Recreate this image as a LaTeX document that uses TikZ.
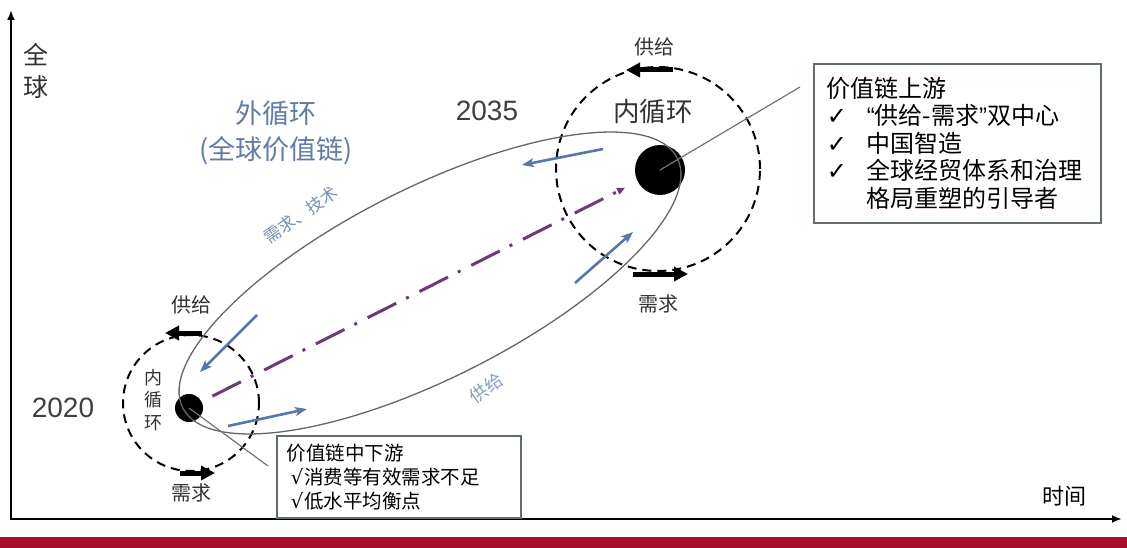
\documentclass[tikz,border=0pt]{standalone}
\usepackage{fontspec}
\newfontfamily\cjk{Noto Sans CJK SC}
\newfontfamily\lat{Liberation Sans}
\newfontfamily\symb{DejaVu Sans}
\usepackage{tikz}
\usetikzlibrary{arrows.meta, positioning}

\definecolor{flowblue}{RGB}{88,118,168}
\definecolor{labelblue}{RGB}{96,124,166}
\definecolor{trendpurple}{RGB}{108,58,118}
\definecolor{boxgray}{RGB}{96,110,110}
\definecolor{barred}{RGB}{168,14,42}
\definecolor{txtgray}{RGB}{50,50,50}

\newcommand{\fs}[2]{\fontsize{#1}{#2}\selectfont}

\begin{document}
\begin{tikzpicture}[x=1pt, y=-1pt,
  every node/.style={font=\cjk, text=txtgray, inner sep=1pt},
  axis/.style={line width=2.4pt, {Latex[length=10pt,width=8pt]}-{Latex[length=10pt,width=8pt]}},
  ring/.style={circle, draw=black, line width=2pt, dash pattern=on 9pt off 6pt, inner sep=0pt},
  dot/.style={circle, fill=black, inner sep=0pt},
  loopline/.style={draw=black!60, line width=1.3pt},
  lead/.style={draw=black!55, line width=1.2pt},
  turn/.style={line width=5pt, -{Triangle[length=14pt,width=14pt]}},
  flow/.style={flowblue, line width=2.6pt, -{Stealth[length=12pt,width=9pt,inset=3pt]}},
  trend/.style={trendpurple, line width=3pt, dash pattern=on 32pt off 11pt on 3pt off 12pt,
    shorten <=12pt, shorten >=14pt, -{Triangle[length=8pt,width=7pt]}},
  infobox/.style={draw=boxgray, line width=1.6pt, align=left, text=black, anchor=north west},
  bluetext/.style={text=labelblue, font=\cjk\fs{27}{36}, align=center}]

\useasboundingbox (0,0) rectangle (1127,548);

% axes
\coordinate (ytop) at (11,10);
\coordinate (origin) at (11,519);
\coordinate (xend) at (1122,519);
\draw[axis] (ytop) -- (origin) -- (xend);
\node (ylab) at (36,71) [align=center, font=\cjk\fs{25}{32}] {全\\球};
\node (tlab) at (1064,496) [text=black, font=\cjk\fs{22}{26}] {时间};

% inner loops
\node[ring, minimum size=136pt] (c20) at (191,403) {};
\node[ring, minimum size=204pt] (c35) at (658,169) {};
\node[dot, minimum size=28pt] (dot20) at (189,408) {};
\node[dot, minimum size=50pt] (dot35) at (660,170) {};

% outer loop
\coordinate (mid) at (430,283);
\draw[loopline, rotate around={26.8:(mid)}] (mid) ellipse [x radius=277, y radius=95];

% leader lines
\coordinate (upend) at (800,87);
\coordinate (lowend) at (268,466);
\draw[lead] (dot35.center) -- (upend);
\draw[lead] (dot20.center) -- (lowend);

% flows
\draw[trend] (dot20) -- (dot35);
\draw[flow] (603,149) -- (522,165);
\draw[flow] (575,283) -- (633,232);
\draw[flow] (257,315) -- (200,372);
\draw[flow] (228,426) -- (307,409);

% supply / demand turns
\draw[turn] ([xshift=15pt,yshift=-4pt]c35.north) -- ([xshift=-32pt,yshift=-4pt]c35.north);
\draw[turn] ([xshift=-25pt,yshift=-2pt]c35.south) -- ([xshift=30pt,yshift=-2pt]c35.south);
\draw[turn] ([xshift=11pt,yshift=1pt]c20.north) -- ([xshift=-26pt,yshift=1pt]c20.north);
\draw[turn] ([xshift=-11pt,yshift=-1pt]c20.south) -- ([xshift=24pt,yshift=-1pt]c20.south);

\node (sup35) [above=9pt of c35.north, xshift=-4pt, font=\cjk\fs{20}{24}] {供给};
\node (dem35) [below=22pt of c35.south, font=\cjk\fs{20}{24}] {需求};
\node (sup20) [above=19pt of c20.north, font=\cjk\fs{20}{24}] {供给};
\node (dem20) [below=11pt of c20.south, font=\cjk\fs{20}{24}] {需求};

\node (in35) at (653,112) [font=\cjk\fs{26.5}{30}] {内循环};
\node (in20) at (153,400) [align=center, font=\cjk\fs{18}{22.5}] {内\\循\\环};
\node (y35) at (487,111) [font=\lat\fs{28}{32}, text=black!75] {2035};
\node (y20) at (63,408) [font=\lat\fs{28}{32}, text=black!75] {2020};

% outer loop labels
\node[bluetext] (outer) at (276,133) {外循环\\(全球价值链)};
\node (techlab) at (301,215) [rotate=35, text=labelblue!85, font=\cjk\fs{17}{20}] {需求、技术};
\node (supplab) at (486,388) [rotate=36, text=labelblue!75, font=\cjk\fs{18}{22}] {供给};

% info boxes
\node[infobox, text width=261pt, minimum height=159pt, inner xsep=13pt, inner ysep=8pt,
  font=\cjk\fs{24}{27.5}] (upbox) at (813,63) {价值链上游\\
  \makebox[40pt][l]{\symb ✓}{\lat “}供给-需求{\lat ”}双中心\\
  \makebox[40pt][l]{\symb ✓}中国智造\\
  \makebox[40pt][l]{\symb ✓}全球经贸体系和治理\\
  \hspace*{40pt}格局重塑的引导者};
\node[infobox, text width=224pt, minimum height=82pt, inner xsep=10pt, inner ysep=6pt,
  font=\cjk\fs{19.5}{24}] (lowbox) at (276,435) {价值链中下游\\
  \hspace*{4pt}{\symb √}\hspace{1pt}消费等有效需求不足\\
  \hspace*{4pt}{\symb √}\hspace{1pt}低水平均衡点};

% bottom band
\fill[barred] (0,537) rectangle (1127,548);
\end{tikzpicture}
\end{document}
